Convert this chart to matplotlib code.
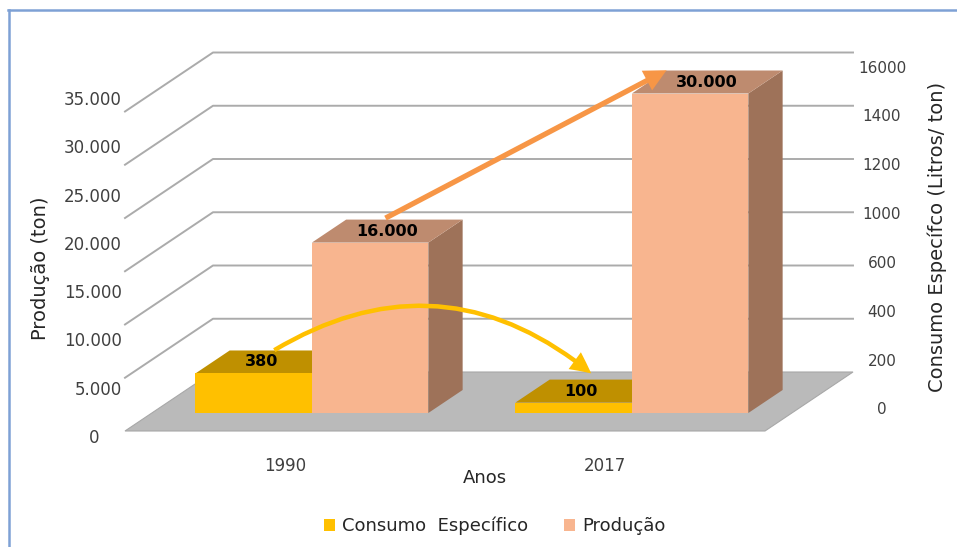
import matplotlib
matplotlib.use("Agg")
import matplotlib.pyplot as plt
from matplotlib.patches import Polygon, FancyArrowPatch, Patch
from matplotlib.transforms import IdentityTransform
from matplotlib.lines import Line2D

# ---------------- data ----------------
anos = ["1990", "2017"]
producao = [16000, 30000]          # ton (left axis)
consumo = [380, 100]               # litros/ton (right axis)
producao_labels = ["16.000", "30.000"]
consumo_labels = ["380", "100"]
left_ticks = [0, 5000, 10000, 15000, 20000, 25000, 30000, 35000]
left_ticklabels = ["0", "5.000", "10.000", "15.000", "20.000", "25.000", "30.000", "35.000"]
right_ticklabels = ["0", "200", "400", "600", "1000", "1200", "1400", "16000"]
grid_levels = [5000, 10000, 15000, 20000, 25000, 30000]

# ---------------- style ----------------
W, H = 957, 547
DX, DY = 88, 59            # depth vector in pixels (full floor depth)
TF, TB = 0.305, 0.695      # bar front / back depth fractions
BW = 0.364                 # bar width in category units
PX_PER_UNIT = 0.01065      # production scale
PX_PER_UNIT2 = 0.104       # consumption scale

C_Y_FRONT, C_Y_TOP, C_Y_SIDE = "#FFC000", "#BF9000", "#A67C00"
C_P_FRONT, C_P_TOP, C_P_SIDE = "#F8B58F", "#BE8B6F", "#9E7259"
C_FLOOR = "#BABABA"
C_GRID = "#ABABAB"
TXT = "#404040"

fig = plt.figure(figsize=(W / 100, H / 100), dpi=100)
fig.patch.set_facecolor("white")

ymax = 35000
ax = fig.add_axes([125 / W, 116 / H, 640 / W, ymax * PX_PER_UNIT / H])
ax.set_xlim(-0.5, 1.5)
ax.set_ylim(0, ymax)
ax2 = ax.twinx()
ax2.set_ylim(0, ymax * PX_PER_UNIT / PX_PER_UNIT2)
ax2.axis("off")

ax.patch.set_visible(False)
for s in ax.spines.values():
    s.set_visible(False)
ax.set_yticks([])
ax.tick_params(left=False, right=False, labelleft=False, bottom=False)
ax.set_xticks(range(len(anos)))
ax.set_xticklabels(anos, fontsize=12, color=TXT)
ax.tick_params(axis="x", pad=15)

ID = IdentityTransform()


def P(a, x, v, t):
    px, py = a.transData.transform((x, v))
    return (px + t * DX, py + t * DY)


def poly(pts, color, z, ec="none", lw=0):
    p = Polygon(pts, closed=True, facecolor=color, edgecolor=ec, lw=lw,
                transform=ID, clip_on=False, zorder=z)
    ax.add_patch(p)


# floor
poly([P(ax, -0.5, 0, 0), P(ax, 1.5, 0, 0), P(ax, 1.5, 0, 1), P(ax, -0.5, 0, 1)],
     C_FLOOR, 1, ec="#A8A8A8", lw=0.8)

# gridlines (side wall + back wall)
for v in grid_levels:
    a0 = P(ax, -0.5, v, 0)
    a1 = P(ax, -0.5, v, 1)
    a2 = P(ax, 1.5, v, 1)
    ax.add_line(Line2D([a0[0], a1[0], a2[0]], [a0[1], a1[1], a2[1]],
                       color=C_GRID, lw=1.4, transform=ID, clip_on=False, zorder=1.5))


def bar(a, x0, x1, v, cf, ct, cs, z):
    poly([P(a, x1, 0, TF), P(a, x1, 0, TB), P(a, x1, v, TB), P(a, x1, v, TF)], cs, z)
    poly([P(a, x0, v, TF), P(a, x1, v, TF), P(a, x1, v, TB), P(a, x0, v, TB)], ct, z)
    poly([P(a, x0, 0, TF), P(a, x1, 0, TF), P(a, x1, v, TF), P(a, x0, v, TF)], cf, z)


z = 2
for i in range(len(anos)):
    bar(ax2, i - BW, i, consumo[i], C_Y_FRONT, C_Y_TOP, C_Y_SIDE, z)
    z += 0.1
    bar(ax, i, i + BW, producao[i], C_P_FRONT, C_P_TOP, C_P_SIDE, z)
    z += 0.1

# data labels on top faces
tm = (TF + TB) / 2
for i in range(len(anos)):
    x, y = P(ax2, i - BW / 2 - 0.03, consumo[i], tm)
    ax.text(x, y, consumo_labels[i], transform=ID, ha="center", va="center",
            fontsize=11.5, fontweight="bold", color="black", zorder=6)
    x, y = P(ax, i + BW / 2, producao[i], tm)
    ax.text(x, y, producao_labels[i], transform=ID, ha="center", va="center",
            fontsize=11.5, fontweight="bold", color="black", zorder=6)

# arrows
a_start = P(ax, 0.116, producao[0], 0.72)
a_end = P(ax, 1.0, producao[1], 0.7)
ax.add_patch(FancyArrowPatch(a_start, a_end, transform=ID, clip_on=False,
                             arrowstyle="simple,head_length=0.8,head_width=0.8,tail_width=0.19",
                             mutation_scale=20, lw=0, color="#F79646",
                             shrinkA=0, shrinkB=0, zorder=7))
b_start = P(ax2, -0.226, consumo[0], 0.7)
b_end = P(ax2, 0.737, consumo[1], 0.8)
ax.add_patch(FancyArrowPatch(b_start, b_end, transform=ID, clip_on=False,
                             connectionstyle="arc3,rad=-0.35",
                             arrowstyle="simple,head_length=0.75,head_width=0.75,tail_width=0.16",
                             mutation_scale=20, lw=0, color="#FFC000",
                             shrinkA=0, shrinkB=0, zorder=7))

# left tick labels (separate label axis providing the scale)
axl = fig.add_axes([0 / W, (H - 438) / H, 124 / W, (438 - 100) / H])
axl.set_ylim(0, 35000)
axl.axis("off")
for v, lbl in zip(left_ticks, left_ticklabels):
    xx = 94 if lbl == "0" else 122
    xp, yp = axl.transData.transform((0, v))
    fig.text(xx / W, yp / H, lbl, ha="right" if lbl != "0" else "center",
             va="center", fontsize=12, color=TXT)

# right tick labels
axr = fig.add_axes([860 / W, (H - 410) / H, 0.01, (410 - 68) / H])
axr.set_ylim(0, len(right_ticklabels) - 1)
axr.axis("off")
for k, lbl in enumerate(right_ticklabels):
    xp, yp = axr.transData.transform((0, k))
    fig.text(882 / W, yp / H, lbl, ha="center", va="center", fontsize=11, color=TXT)

# axis titles
fig.text(40 / W, 1 - 268 / H, "Produção (ton)", rotation=90, ha="center", va="center",
         fontsize=14, color="#262626")
fig.text(937 / W, 1 - 237 / H, "Consumo Específco (Litros/ ton)", rotation=90,
         ha="center", va="center", fontsize=14, color="#262626")
fig.text(485 / W, 1 - 478 / H, "Anos", ha="center", va="center", fontsize=13, color="#262626")

# legend
handles = [Patch(facecolor=C_Y_FRONT, edgecolor="none"),
           Patch(facecolor=C_P_FRONT, edgecolor="none")]
fig.legend(handles, ["Consumo  Específico", "Produção"], loc="center",
           bbox_to_anchor=(495 / W, 1 - 526 / H), ncol=2, frameon=False, fontsize=13,
           handlelength=0.6, handleheight=0.6, handletextpad=0.4, columnspacing=2.0,
           labelcolor="#262626")

# chart border (top and left)
fig.add_artist(Line2D([8 / W, 1], [1 - 9.5 / H, 1 - 9.5 / H], color="#7EA1D5", lw=1.8,
                      transform=fig.transFigure))
fig.add_artist(Line2D([8.5 / W, 8.5 / W], [0, 1 - 9.5 / H], color="#7EA1D5", lw=1.8,
                      transform=fig.transFigure))

fig.savefig("out.png", dpi=100)
